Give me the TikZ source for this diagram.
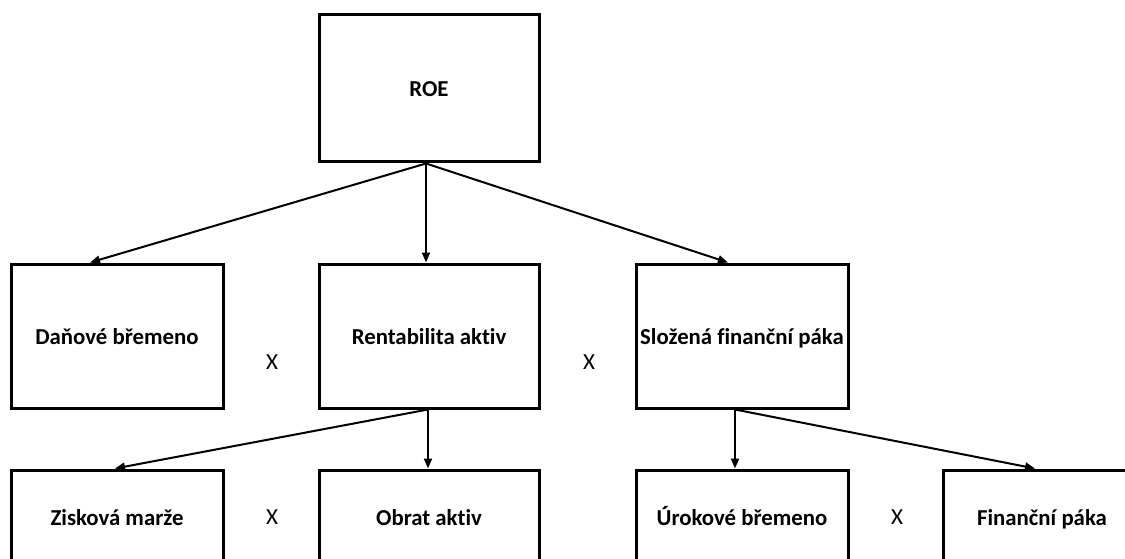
\documentclass[tikz,border=0pt]{standalone}
\usepackage{fontspec}
\setmainfont{Carlito}[Ligatures={NoCommon}]
\usetikzlibrary{arrows.meta}
\begin{document}
\begin{tikzpicture}[x=1pt,y=-1pt,
  box/.style={draw=black,line width=3pt,minimum width=212pt,minimum height=144pt,
    inner sep=0pt,text height=18pt,text depth=1pt,
    font=\fontsize{22.8}{26}\selectfont\bfseries,text=black},
  lowbox/.style={box,minimum height=94pt},
  conn/.style={line width=2pt,-{Triangle[length=10pt,width=8pt]}},
  times/.style={font=\fontsize{23}{26}\selectfont,text=black}]
\useasboundingbox (0,0) rectangle (1125,559);
\clip (0,0) rectangle (1125,559);
\node[box,minimum width=220pt,minimum height=147pt] (roe) at (429,88.5) {ROE};
\node[box] (dan) at (117,336) {Daňové břemeno};
\node[box,minimum width=220pt] (ren) at (429,336) {Rentabilita aktiv};
\node[box] (slo) at (742,336) {Složená finanční páka};
\node[lowbox] (zis) at (117,517) {Zisková marže};
\node[lowbox,minimum width=220pt] (obr) at (429,517) {Obrat aktiv};
\node[lowbox] (uro) at (742,517) {Úrokové břemeno};
\node[lowbox,minimum width=212pt] (fin) at (1049,517) {\hspace*{-14pt}Finanční páka};
\node[times] (x1) at (272,362) {X};
\node[times] (x2) at (589,362) {X};
\node[times] (x3) at (272,517) {X};
\node[times] (x4) at (897,517) {X};
\draw[conn] ([xshift=-3pt]roe.south) -- ([xshift=-27pt]dan.north);
\draw[conn] ([xshift=-3pt]roe.south) -- ([xshift=-3pt]ren.north);
\draw[conn] ([xshift=-3pt]roe.south) -- ([xshift=-14pt]slo.north);
\draw[conn] ([xshift=-1pt]ren.south) -- ([xshift=-2pt]zis.north);
\draw[conn] ([xshift=-1pt]ren.south) -- ([xshift=-1pt]obr.north);
\draw[conn] ([xshift=-7pt]slo.south) -- ([xshift=-7pt]uro.north);
\draw[conn] ([xshift=-7pt]slo.south) -- ([xshift=-14pt]fin.north);
\end{tikzpicture}
\end{document}
